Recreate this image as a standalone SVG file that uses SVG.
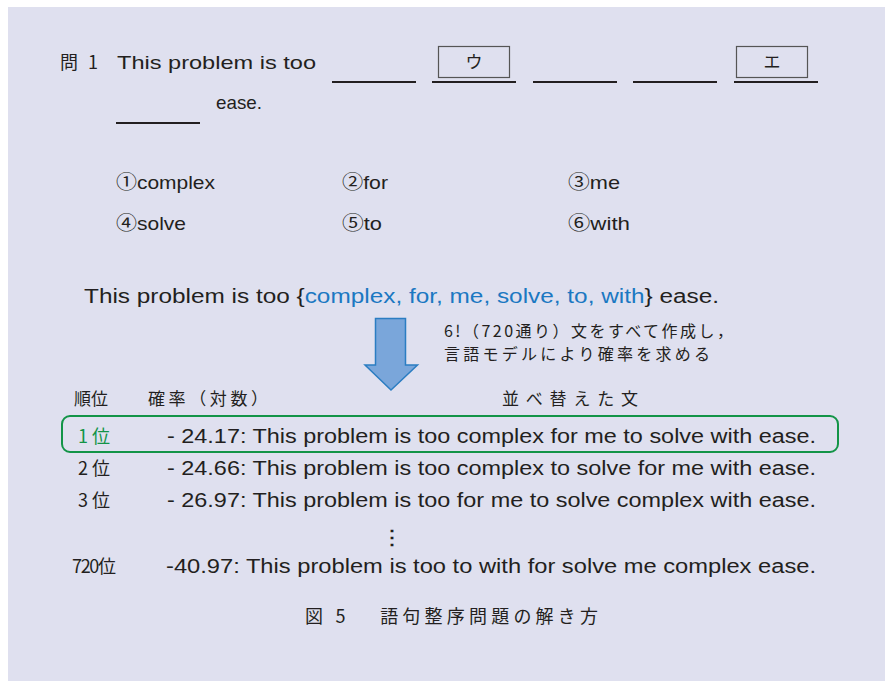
<svg xmlns="http://www.w3.org/2000/svg" width="886" height="682" viewBox="0 0 886 682">
<style>
text{font-family:"Liberation Sans","Noto Sans CJK JP",sans-serif;fill:#231f20}
.jp{font-family:"Noto Sans CJK JP",sans-serif}
.q{font-size:19px}
.m{font-size:20px}
.blue{fill:#1b78c2}
.green{fill:#139447}
.ul{stroke:#231f20;stroke-width:2}
.box{fill:none;stroke:#555;stroke-width:1.2}
</style>
<rect x="8" y="7" width="877" height="674" fill="#dfe0ef"/>
<g id="question">
<text class="jp" font-size="18" x="60" y="69" textLength="38">問1</text>
<text class="q" x="117" y="69" textLength="199" lengthAdjust="spacingAndGlyphs">This problem is too</text>
<line class="ul" x1="332" y1="82" x2="416" y2="82"/>
<line class="ul" x1="432" y1="82" x2="516" y2="82"/>
<line class="ul" x1="533" y1="82" x2="617" y2="82"/>
<line class="ul" x1="633" y1="82" x2="717" y2="82"/>
<line class="ul" x1="734" y1="82" x2="818" y2="82"/>
<rect class="box" x="438.5" y="46.5" width="71" height="31"/>
<rect class="box" x="736.5" y="46.5" width="71" height="31"/>
<text class="jp" font-size="17" x="474" y="68" text-anchor="middle">ウ</text>
<text class="jp" font-size="17" x="772" y="68" text-anchor="middle">エ</text>
<line class="ul" x1="116" y1="123" x2="200" y2="123"/>
<text class="q" x="216" y="109" textLength="46" lengthAdjust="spacingAndGlyphs">ease.</text>
</g>
<g id="options">
<text class="q" x="116" y="189" textLength="99" lengthAdjust="spacingAndGlyphs">①complex</text>
<text class="q" x="342" y="189" textLength="46" lengthAdjust="spacingAndGlyphs">②for</text>
<text class="q" x="568" y="189" textLength="52" lengthAdjust="spacingAndGlyphs">③me</text>
<text class="q" x="116" y="230" textLength="70" lengthAdjust="spacingAndGlyphs">④solve</text>
<text class="q" x="342" y="230" textLength="40" lengthAdjust="spacingAndGlyphs">⑤to</text>
<text class="q" x="568" y="230" textLength="62" lengthAdjust="spacingAndGlyphs">⑥with</text>
</g>
<g id="candidates">
<text class="m" x="84" y="303" textLength="635" lengthAdjust="spacingAndGlyphs">This problem is too {<tspan class="blue">complex, for, me, solve, to, with</tspan>} ease.</text>
</g>
<g id="connectors">
<polygon points="375.5,318.5 405.5,318.5 405.5,365 417.5,365 391,390 365,365 375.5,365" fill="#7aa6da" stroke="#2b7dc2" stroke-width="1.5" stroke-linejoin="miter"/>
</g>
<g id="arrow-label">
<text class="jp" font-size="16" x="444" y="337" textLength="289">6!（720通り）文をすべて作成し，</text>
<text class="jp" font-size="16" x="444" y="360" textLength="266">言語モデルにより確率を求める</text>
</g>
<g id="header">
<text class="jp" font-size="17" x="74" y="405">順位</text>
<text class="jp" font-size="17" x="148" y="405" textLength="120">確率（対数）</text>
<text class="jp" font-size="17" x="570" y="405" text-anchor="middle" textLength="136">並べ替えた文</text>
</g>
<g id="rank1">
<rect x="62" y="416" width="776" height="36" rx="8" fill="none" stroke="#139447" stroke-width="2"/>
<text class="green jp" x="78" y="443" font-size="18">1 位</text>
<text class="m" x="167" y="443" textLength="649" lengthAdjust="spacingAndGlyphs">- 24.17: This problem is too complex for me to solve with ease.</text>
</g>
<g id="rank2">
<text class="jp" x="78" y="475" font-size="18">2 位</text>
<text class="m" x="167" y="475" textLength="649" lengthAdjust="spacingAndGlyphs">- 24.66: This problem is too complex to solve for me with ease.</text>
</g>
<g id="rank3">
<text class="jp" x="78" y="507" font-size="18">3 位</text>
<text class="m" x="167" y="507" textLength="649" lengthAdjust="spacingAndGlyphs">- 26.97: This problem is too for me to solve complex with ease.</text>
</g>
<g id="ellipsis">
<text x="392" y="544" text-anchor="middle" font-weight="bold" font-size="20">⋮</text>
</g>
<g id="rank720">
<text class="jp" x="72" y="573" font-size="18" textLength="44">720位</text>
<text class="m" x="166" y="573" textLength="650" lengthAdjust="spacingAndGlyphs">-40.97: This problem is too to with for solve me complex ease.</text>
</g>
<g id="caption">
<text class="jp" font-size="18" x="305" y="623" textLength="293">図 5　 語句整序問題の解き方</text>
</g>
</svg>
